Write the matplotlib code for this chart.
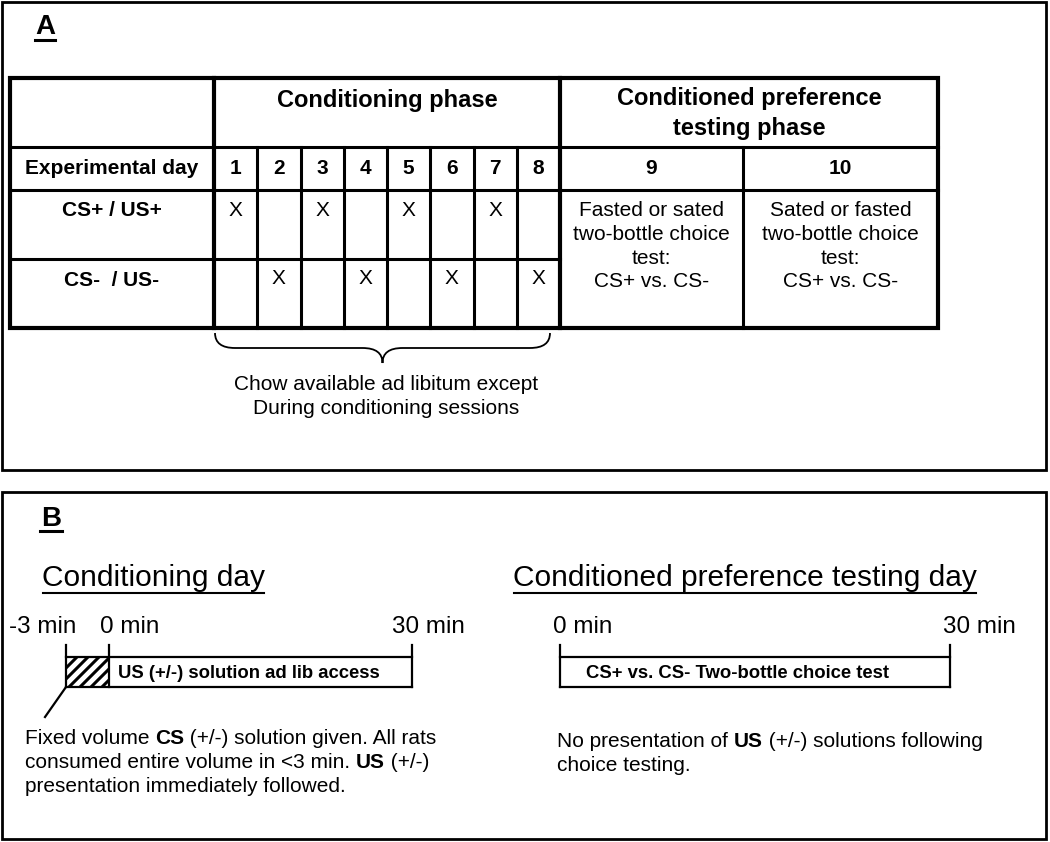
import matplotlib
matplotlib.use('Agg')
import matplotlib.pyplot as plt
from matplotlib.patches import Rectangle, PathPatch
from matplotlib.path import Path
from matplotlib.font_manager import FontProperties

plt.rcParams['font.family'] = ['Liberation Sans', 'DejaVu Sans']

# ---------------- data ----------------
days = list(range(1, 11))
cond_days = days[:8]
test_days = days[8:]
cs_plus_days = [1, 3, 5, 7]
cs_minus_days = [2, 4, 6, 8]
row_labels = ['Experimental day', 'CS+ / US+', 'CS-  / US-']
phase_cond = 'Conditioning phase'
phase_test = ['Conditioned preference', 'testing phase']
test_cells = [['Fasted or sated', 'two-bottle choice', 'test:', 'CS+ vs. CS-'],
              ['Sated or fasted', 'two-bottle choice', 'test:', 'CS+ vs. CS-']]
brace_note = ['Chow available ad libitum except', 'During conditioning sessions']
cond_title = 'Conditioning day'
test_title = 'Conditioned preference testing day'
cond_times = ['-3 min', '0 min', '30 min']
test_times = ['0 min', '30 min']
cond_bar_text = 'US (+/-) solution ad lib access'
test_bar_text = 'CS+ vs. CS- Two-bottle choice test'
cond_note = [[('Fixed volume ', 'normal'), ('CS', 'bold'), (' (+/-) solution given. All rats', 'normal')],
             [('consumed entire volume in <3 min. ', 'normal'), ('US', 'bold'), (' (+/-)', 'normal')],
             [('presentation immediately followed.', 'normal')]]
test_note = [[('No presentation of ', 'normal'), ('US', 'bold'), (' (+/-) solutions following', 'normal')],
             [('choice testing.', 'normal')]]

# ---------------- figure ----------------
W, H = 1050, 842
fig = plt.figure(figsize=(W / 100, H / 100), dpi=100)
ax = fig.add_axes([0, 0, 1, 1])
ax.set_xlim(0, W)
ax.set_ylim(H, 0)
ax.axis('off')
renderer = fig.canvas.get_renderer()
K = 'black'


def line(x0, y0, x1, y1, lw):
    ax.plot([x0, x1], [y0, y1], color=K, lw=lw, solid_capstyle='projecting')


def width(s, size, weight='normal'):
    fp = FontProperties(family=['Liberation Sans'], size=size, weight=weight)
    w1 = renderer.get_text_width_height_descent('|' + s + '|', fp, ismath=False)[0]
    w0 = renderer.get_text_width_height_descent('||', fp, ismath=False)[0]
    return w1 - w0


def rich(x, y, parts, size):
    for s, w in parts:
        ax.text(x, y, s, fontsize=size, fontweight=w, ha='left', va='baseline', color=K)
        x += width(s, size, w)


def underlined(x, y, s, size, weight, uy, ulw, pad=1):
    ax.text(x, y, s, fontsize=size, fontweight=weight, ha='left', va='baseline', color=K)
    line(x + pad, uy, x + width(s, size, weight) - pad, uy, ulw)


# panel frames
ax.add_patch(Rectangle((2, 2), 1044, 468, fill=False, lw=2, ec=K))
ax.add_patch(Rectangle((2, 492), 1044, 347, fill=False, lw=2, ec=K))

# ---------------- panel A ----------------
underlined(35, 34, 'A', 20, 'bold', 40, 2.2, pad=0)

x_left, x_lab, x_cond_end, x_mid9, x_right = 10, 214, 560, 743, 938
y_top, y_h1, y_h2, y_r1, y_bot = 78, 147, 190, 259, 328
dw = (x_cond_end - x_lab) / len(cond_days)
col_centers = [x_lab + dw * (i + 0.5) for i in range(len(cond_days))]

thick, thin = 3.0, 2.2
ax.add_patch(Rectangle((x_left, y_top), x_right - x_left, y_bot - y_top, fill=False, lw=thick, ec=K,
                       joinstyle='miter'))
line(x_lab, y_top, x_lab, y_bot, thick)
line(x_cond_end, y_top, x_cond_end, y_bot, thick)
line(x_left, y_h1, x_right, y_h1, thin)
line(x_left, y_h2, x_right, y_h2, thin)
line(x_left, y_r1, x_cond_end, y_r1, thin)
for i in range(1, len(cond_days)):
    xx = x_lab + dw * i
    line(xx, y_h1, xx, y_bot, thin)
line(x_mid9, y_h1, x_mid9, y_bot, thin)

ax.text((x_lab + x_cond_end) / 2, 101, phase_cond, fontsize=17, fontweight='bold', ha='center', va='center')
for j, s in enumerate(phase_test):
    ax.text((x_cond_end + x_right) / 2, 99 + 30 * j, s, fontsize=17, fontweight='bold', ha='center', va='center')

lab_cx = (x_left + x_lab) / 2
ax.text(lab_cx, 168, row_labels[0], fontsize=15, fontweight='bold', ha='center', va='center')
ax.text(lab_cx, 210, row_labels[1], fontsize=15, fontweight='bold', ha='center', va='center')
ax.text(lab_cx, 280, row_labels[2], fontsize=15, fontweight='bold', ha='center', va='center')

for d, cx in zip(cond_days, col_centers):
    ax.text(cx, 168, str(d), fontsize=15, fontweight='bold', ha='center', va='center')
    if d in cs_plus_days:
        ax.text(cx, 210, 'X', fontsize=15, ha='center', va='center')
    if d in cs_minus_days:
        ax.text(cx, 279, 'X', fontsize=15, ha='center', va='center')

test_cx = [(x_cond_end + x_mid9) / 2, (x_mid9 + x_right) / 2]
for d, cx, cell in zip(test_days, test_cx, test_cells):
    ax.text(cx, 168, str(d), fontsize=15, fontweight='bold', ha='center', va='center')
    for k, s in enumerate(cell):
        ax.text(cx, 211 + 23.5 * k, s, fontsize=15, ha='center', va='center')

# brace under conditioning days
bl, br, bt, bm, btip = 215, 550, 333, 348, 363
bc = (bl + br) / 2
verts = [(bl, bt), (bl, bm), (bl + 20, bm), (bc - 20, bm), (bc, bm), (bc, btip),
         (bc, bm), (bc + 20, bm), (br - 20, bm), (br, bm), (br, bt)]
codes = [Path.MOVETO, Path.CURVE3, Path.CURVE3, Path.LINETO, Path.CURVE3, Path.CURVE3,
         Path.CURVE3, Path.CURVE3, Path.LINETO, Path.CURVE3, Path.CURVE3]
ax.add_patch(PathPatch(Path(verts, codes), fill=False, lw=1.3, ec=K))
for k, s in enumerate(brace_note):
    ax.text(bc + 4, 384 + 24 * k, s, fontsize=15, ha='center', va='center')

# ---------------- panel B ----------------
underlined(41, 526, 'B', 20, 'bold', 531, 2.2, pad=-1)
underlined(42, 586, cond_title, 21.5, 'normal', 593, 1.5)
underlined(513, 586, test_title, 21.5, 'normal', 593, 1.5)

tl_top, tl_bot, tick_top = 657, 687, 645
tl_lw = 1.6
# conditioning timeline
cx_ticks = [66, 109, 412]
for xx in cx_ticks:
    line(xx, tick_top, xx, tl_bot, tl_lw)
line(cx_ticks[0], tl_top, cx_ticks[-1], tl_top, tl_lw)
line(cx_ticks[0], tl_bot, cx_ticks[-1], tl_bot, tl_lw)
clip = Rectangle((cx_ticks[0], tl_top), cx_ticks[1] - cx_ticks[0], tl_bot - tl_top, transform=ax.transData)
hx = cx_ticks[0] - 30
while hx < cx_ticks[1] + 5:
    ln, = ax.plot([hx, hx + 30], [tl_bot, tl_top], color=K, lw=2.2)
    ln.set_clip_path(clip)
    hx += 11
for s, cx in zip(cond_times, [43, 130, 428]):
    ax.text(cx, 627, s, fontsize=17.5, ha='center', va='center')
ax.text(118, 674, cond_bar_text, fontsize=13.3, fontweight='bold', ha='left', va='center')
line(cx_ticks[0], tl_bot, 45, 717, 1.6)
for k, parts in enumerate(cond_note):
    rich(25, 744 + 24 * k, parts, 15)

# testing timeline
tx_ticks = [560, 950]
for xx in tx_ticks:
    line(xx, tick_top, xx, tl_bot, tl_lw)
line(tx_ticks[0], tl_top, tx_ticks[1], tl_top, tl_lw)
line(tx_ticks[0], tl_bot, tx_ticks[1], tl_bot, tl_lw)
for s, cx in zip(test_times, [583, 979]):
    ax.text(cx, 627, s, fontsize=17.5, ha='center', va='center')
ax.text(586, 674, test_bar_text, fontsize=13.3, fontweight='bold', ha='left', va='center')
for k, parts in enumerate(test_note):
    rich(557, 747 + 24 * k, parts, 15)

fig.savefig('out.png', dpi=100)
